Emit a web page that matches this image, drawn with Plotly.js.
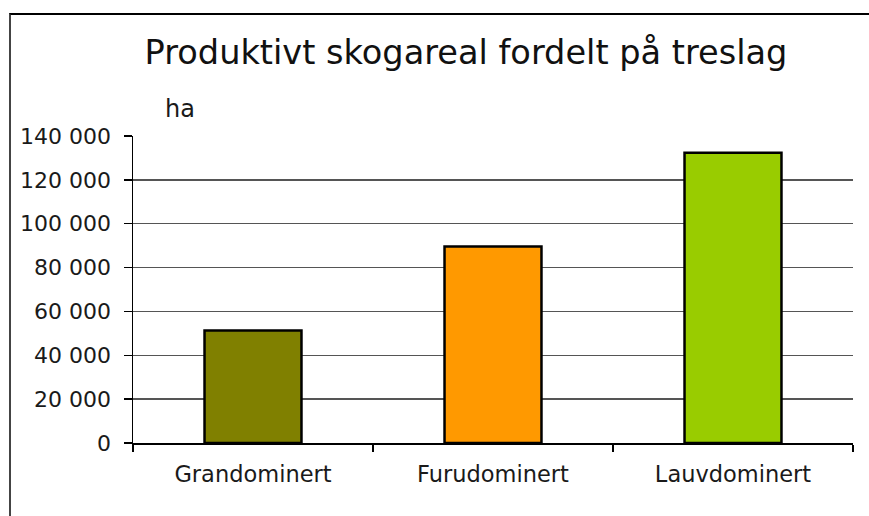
<!DOCTYPE html>
<html>
<head>
<meta charset="utf-8">
<script src="https://cdn.plot.ly/plotly-3.0.1.min.js"></script>
<style>
  html, body { margin: 0; padding: 0; background: #fff; }
  #wrap { position: relative; width: 869px; height: 516px; overflow: hidden; }
  #chart { position: absolute; left: 0; top: 0; width: 869px; height: 516px; }
  #frame { position: absolute; left: 9px; top: 13px; width: 900px; height: 600px;
           border-left: 2px solid #444; border-top: 2px solid #000; pointer-events: none; }
</style>
</head>
<body>
<div id="wrap">
  <div id="chart"></div>
  <div id="frame"></div>
</div>
<script>
const categories = ["Grandominert", "Furudominert", "Lauvdominert"];
const values = [51300, 89600, 132400];
const barColors = ["#808000", "#FF9900", "#99CC00"];
const titleText = "Produktivt skogareal fordelt på treslag";
const unitLabel = "ha";

const font = "DejaVu Sans, Verdana, sans-serif";

const trace = {
  type: "bar",
  x: categories,
  y: values,
  marker: { color: barColors, line: { color: "#000", width: 2.5 } },
  hoverinfo: "none"
};

const layout = {
  width: 869, height: 516,
  margin: { l: 133, r: 16, t: 136, b: 73, pad: 0 },
  paper_bgcolor: "#fff", plot_bgcolor: "#fff",
  separators: ", ",
  bargap: 0.596,
  showlegend: false,
  font: { family: font, color: "#1a1a1a" },
  title: {
    text: titleText,
    font: { family: font, size: 33.6, color: "#111" },
    x: 466 / 869, xref: "container", xanchor: "center",
    y: 1 - 52 / 516, yref: "container", yanchor: "middle"
  },
  xaxis: {
    type: "category",
    showline: true, linecolor: "#000", linewidth: 1.5,
    ticks: "outside", tickson: "boundaries", ticklen: 7, tickcolor: "#000", tickwidth: 1.5,
    showgrid: false,
    tickfont: { family: font, size: 22.5, color: "#1a1a1a" },
    ticklabelstandoff: 10
  },
  yaxis: {
    range: [0, 140000], dtick: 20000, tick0: 0,
    tickformat: ",d",
    showline: true, linecolor: "#000", linewidth: 1.5,
    ticks: "outside", ticklen: 8, tickcolor: "#000", tickwidth: 1.5,
    showgrid: true, gridcolor: "#555", gridwidth: 1.5,
    zeroline: false,
    tickfont: { family: font, size: 22, color: "#1a1a1a" },
    ticklabelstandoff: 8
  },
  annotations: [{
    text: unitLabel, xref: "paper", yref: "paper",
    x: (163 - 133) / 720, y: (443 - 109) / 307,
    xanchor: "left", yanchor: "middle", showarrow: false,
    font: { family: font, size: 24, color: "#1a1a1a" }
  }]
};

Plotly.newPlot("chart", [trace], layout, { staticPlot: true, displayModeBar: false });
</script>
</body>
</html>
